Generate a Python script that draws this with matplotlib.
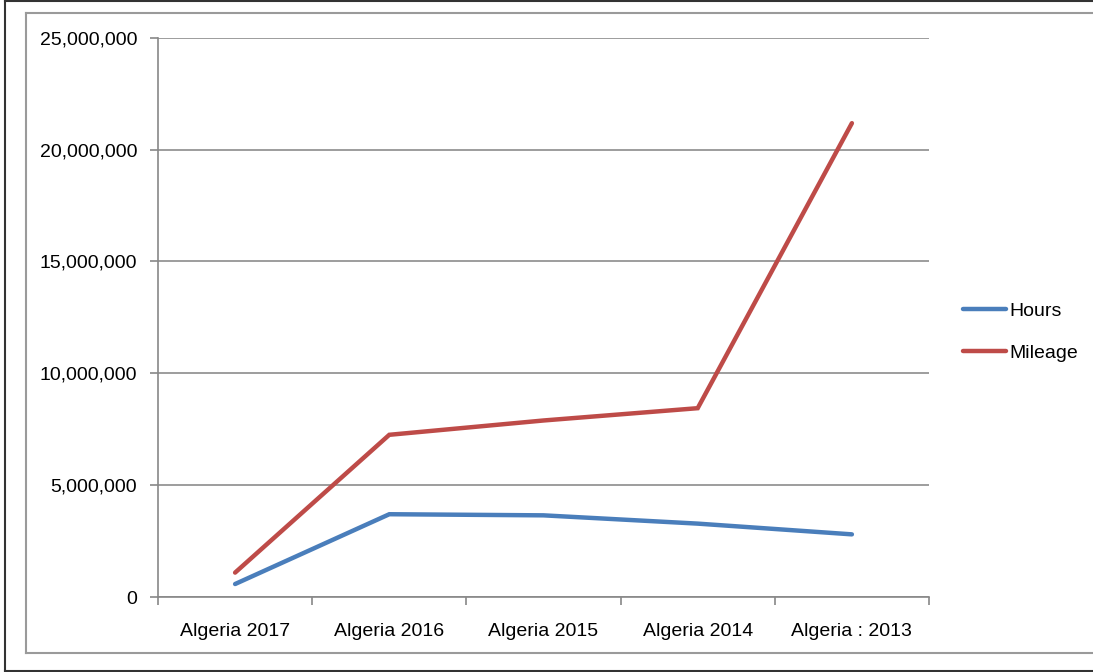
import matplotlib
matplotlib.use("Agg")
import matplotlib.pyplot as plt
from matplotlib.lines import Line2D
from matplotlib.ticker import FuncFormatter, FixedLocator

plt.rcParams['font.family'] = ['Liberation Sans', 'DejaVu Sans']

categories = ["Algeria 2017", "Algeria 2016", "Algeria 2015", "Algeria 2014", "Algeria : 2013"]
hours = [580000, 3700000, 3650000, 3280000, 2800000]
mileage = [1090000, 7250000, 7890000, 8440000, 21180000]
series_names = ["Hours", "Mileage"]
colors = ["#4A7EBB", "#BE4B48"]

W, H = 1093, 672
fig = plt.figure(figsize=(W / 100, H / 100), dpi=100)
fig.patch.set_facecolor("white")

def fx(x):
    return x / W
def fy(y):
    return 1 - y / H

dark = "#333333"
gray = "#9a9a9a"
fig.add_artist(Line2D([fx(5), 1.0], [fy(1), fy(1)], color=dark, lw=1.5))
fig.add_artist(Line2D([fx(5), fx(5)], [fy(1), fy(671)], color=dark, lw=1.5))
fig.add_artist(Line2D([fx(5), 1.0], [fy(671), fy(671)], color=dark, lw=1.5))
fig.add_artist(Line2D([fx(26), 1.0], [fy(12.5), fy(12.5)], color=gray, lw=1.5))
fig.add_artist(Line2D([fx(26), fx(26)], [fy(12.5), fy(652.5)], color=gray, lw=1.5))
fig.add_artist(Line2D([fx(26), 1.0], [fy(652.5), fy(652.5)], color=gray, lw=1.5))

left, right = 158 / W, 929 / W
bottom, top = 1 - 597 / H, 1 - 37.7 / H
ax = fig.add_axes([left, bottom, right - left, top - bottom])

x = list(range(len(categories)))
for name, vals, c in zip(series_names, [hours, mileage], colors):
    ax.plot(x, vals, color=c, lw=3.2, label=name, solid_capstyle="round", solid_joinstyle="miter")

ax.set_xlim(-0.5, len(categories) - 0.5)
ax.set_ylim(0, 25000000)
ax.set_yticks([0, 5000000, 10000000, 15000000, 20000000, 25000000])
ax.yaxis.set_major_formatter(FuncFormatter(lambda v, p: f"{int(v):,}"))

ax.xaxis.set_major_locator(FixedLocator([i - 0.5 for i in range(len(categories) + 1)]))
ax.xaxis.set_minor_locator(FixedLocator(x))
ax.set_xticklabels([], minor=False)
ax.set_xticklabels(categories, minor=True)
fs = 14
ax.tick_params(axis="x", which="minor", length=0, pad=19, labelsize=fs)
ax.tick_params(axis="x", which="major", length=6, color="#888888", width=1.2)
ax.tick_params(axis="y", length=6, color="#888888", width=1.2, pad=9, labelsize=fs)

ax.grid(axis="y", color="#8c8c8c", lw=1.2)
ax.set_axisbelow(True)
for s in ["top", "right"]:
    ax.spines[s].set_visible(False)
ax.spines["left"].set_color("#888888")
ax.spines["bottom"].set_color("#888888")
ax.spines["left"].set_linewidth(1.2)
ax.spines["bottom"].set_linewidth(1.2)

leg = ax.legend(loc="center left", bbox_to_anchor=(1.022, 0.474), frameon=False,
                fontsize=fs, handlelength=2.2, handletextpad=0.15, labelspacing=1.25)

fig.savefig("out.png", dpi=100, facecolor="white")
